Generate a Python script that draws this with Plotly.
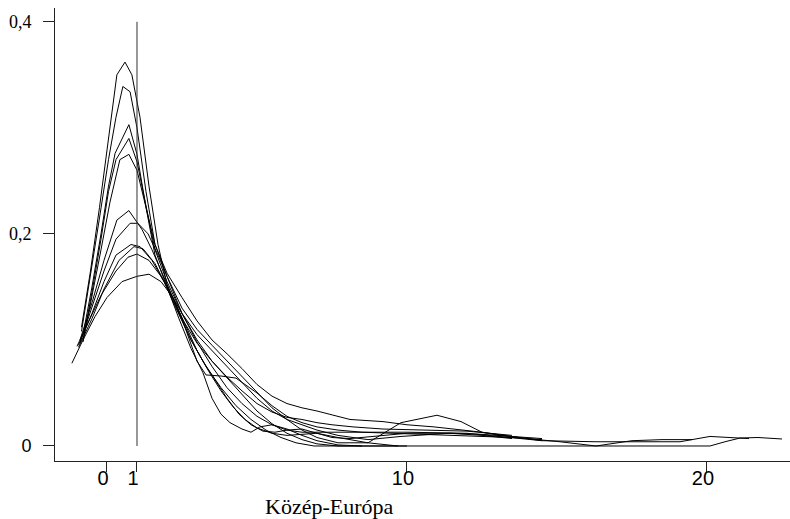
import plotly.graph_objects as go

# ---- data ----
x1 = [-0.85, -0.55, -0.25, 0.05, 0.33, 0.6, 0.83, 1.1, 1.4, 1.7, 2.0, 2.5, 3.0, 3.5, 4.0, 4.5, 5.0, 5.5, 6.0, 6.5, 7.0, 7.7, 10, 15, 20.1, 20.6, 21.1, 21.7, 22.5]
y1 = [0.112, 0.165, 0.225, 0.29, 0.35, 0.362, 0.35, 0.31, 0.245, 0.19, 0.152, 0.12, 0.097, 0.08, 0.064, 0.048, 0.033, 0.021, 0.012, 0.006, 0.002, 0.0, 0.0, 0.0, 0.0, 0.004, 0.0075, 0.008, 0.0066]

x2 = [-0.85, -0.55, -0.25, 0.05, 0.3, 0.53, 0.77, 1.0, 1.3, 1.6, 2.0, 2.5, 3.0, 3.5, 4.0, 4.5, 5.0, 5.5, 6.0, 6.5, 7.0, 8.1, 9.2, 10.0, 10.9, 12.5, 13.5, 14.5]
y2 = [0.108, 0.16, 0.215, 0.27, 0.31, 0.339, 0.334, 0.30, 0.24, 0.19, 0.163, 0.14, 0.118, 0.1, 0.087, 0.073, 0.058, 0.047, 0.04, 0.036, 0.033, 0.025, 0.023, 0.02, 0.018, 0.013, 0.009, 0.005]

x3 = [-0.8, -0.5, -0.2, 0.05, 0.27, 0.73, 1.0, 1.3, 1.6, 2.0, 2.4, 2.8, 3.2, 3.5, 3.8, 4.1, 4.5, 4.8, 5.1, 5.5, 6.0, 6.5, 7.0, 7.7, 8.5]
y3 = [0.105, 0.15, 0.2, 0.245, 0.276, 0.303, 0.275, 0.225, 0.18, 0.15, 0.12, 0.092, 0.069, 0.045, 0.03, 0.022, 0.016, 0.013, 0.018, 0.02, 0.016, 0.01, 0.005, 0.001, 0.0]

x4 = [-0.8, -0.5, -0.2, 0.05, 0.3, 0.73, 1.0, 1.3, 1.6, 2.0, 2.5, 3.0, 3.5, 4.0, 4.5, 5.0, 5.5, 6.0, 6.5, 7.0, 7.7, 8.7, 9.8, 11.4, 12.5, 13.5]
y4 = [0.1, 0.145, 0.195, 0.24, 0.27, 0.29, 0.268, 0.225, 0.185, 0.155, 0.125, 0.105, 0.09, 0.075, 0.06, 0.045, 0.033, 0.025, 0.02, 0.015, 0.01, 0.006, 0.009, 0.012, 0.01, 0.007]

x5 = [-0.8, -0.5, -0.2, 0.1, 0.43, 0.73, 1.0, 1.3, 1.6, 2.0, 2.5, 3.0, 3.5, 4.0, 4.5, 5.0, 5.5, 6.0, 6.5, 7.0, 7.7, 8.5, 10, 12, 14.5, 16.3, 19.1, 20.1, 20.9, 21.4]
y5 = [0.098, 0.14, 0.185, 0.23, 0.27, 0.275, 0.26, 0.225, 0.19, 0.16, 0.125, 0.098, 0.075, 0.055, 0.04, 0.028, 0.02, 0.015, 0.013, 0.013, 0.013, 0.013, 0.013, 0.012, 0.005, 0.004, 0.004, 0.009, 0.008, 0.007]

x6 = [-0.9, -0.5, -0.1, 0.33, 0.73, 1.17, 1.5, 1.8, 2.1, 2.5, 3.0, 3.3, 3.8, 4.3, 5.0, 5.5, 6.0, 6.5, 7.0, 7.7, 8.5, 9.5, 10.5, 12, 13.5, 14.5]
y6 = [0.1, 0.135, 0.175, 0.213, 0.222, 0.204, 0.185, 0.165, 0.145, 0.12, 0.08, 0.067, 0.066, 0.064, 0.05, 0.038, 0.028, 0.022, 0.018, 0.015, 0.013, 0.012, 0.011, 0.01, 0.008, 0.006]

x7 = [-0.9, -0.5, -0.1, 0.3, 0.77, 1.03, 1.37, 1.7, 2.0, 2.5, 3.0, 3.5, 4.0, 4.5, 5.0, 5.5, 6.0, 6.5, 7.0, 7.7, 8.7, 9.8, 11.0, 11.8, 12.5, 13.1, 14, 15.1, 16.3, 17.5, 18.5, 19.5]
y7 = [0.097, 0.13, 0.165, 0.195, 0.21, 0.21, 0.2, 0.18, 0.16, 0.13, 0.11, 0.095, 0.08, 0.066, 0.05, 0.036, 0.025, 0.015, 0.008, 0.003, 0.003, 0.022, 0.029, 0.023, 0.013, 0.01, 0.007, 0.004, 0.0, 0.005, 0.006, 0.006]

x8 = [-0.95, -0.5, -0.1, 0.3, 0.8, 1.1, 1.5, 1.9, 2.3, 2.8, 3.3, 3.8, 4.3, 4.8, 5.3, 5.8, 6.3, 6.9, 7.7, 10]
y8 = [0.095, 0.125, 0.155, 0.18, 0.19, 0.188, 0.175, 0.155, 0.13, 0.1, 0.075, 0.055, 0.038, 0.025, 0.015, 0.008, 0.003, 0.0, 0.0, 0.0]

x9 = [-0.95, -0.5, -0.1, 0.4, 0.9, 1.2, 1.6, 2.0, 2.4, 2.8, 3.2, 3.6, 4.0, 4.4, 4.8, 5.2, 5.6, 6.0, 6.5, 7.0, 7.5, 8.1, 9, 10, 11.5, 12.5, 14.5]
y9 = [0.093, 0.12, 0.148, 0.175, 0.188, 0.186, 0.172, 0.15, 0.125, 0.1, 0.08, 0.062, 0.045, 0.03, 0.02, 0.014, 0.013, 0.015, 0.016, 0.012, 0.008, 0.007, 0.0095, 0.012, 0.012, 0.011, 0.007]

x10 = [-1.0, -0.6, -0.2, 0.3, 0.7, 1.0, 1.4, 1.8, 2.2, 2.6, 3.0, 3.4, 3.8, 4.2, 4.6, 5.0, 5.5, 6.0, 6.5, 7.0, 7.7, 8.7, 9.7]
y10 = [0.094, 0.118, 0.142, 0.165, 0.178, 0.181, 0.175, 0.16, 0.14, 0.115, 0.09, 0.07, 0.052, 0.037, 0.025, 0.017, 0.012, 0.01, 0.011, 0.012, 0.008, 0.003, 0.0]

x11 = [-1.17, -0.8, -0.4, 0.0, 0.5, 1.0, 1.4, 1.8, 2.2, 2.6, 3.0, 3.5, 4.0, 4.5, 5.0, 5.5, 6.0, 6.5, 7.0, 7.5, 8.2, 9.2, 10.5, 12, 13.5]
y11 = [0.078, 0.1, 0.122, 0.14, 0.155, 0.16, 0.162, 0.155, 0.14, 0.12, 0.1, 0.08, 0.065, 0.052, 0.04, 0.032, 0.027, 0.025, 0.022, 0.02, 0.018, 0.016, 0.015, 0.014, 0.01]

curves = [(x1, y1), (x2, y2), (x3, y3), (x4, y4), (x5, y5), (x6, y6),
          (x7, y7), (x8, y8), (x9, y9), (x10, y10), (x11, y11)]

ref_x = 1
ref_y = [0, 0.4]

x_tickvals = [0, 1, 10, 20]
x_ticktext = ["0", "1", "10", "20"]
y_tickvals = [0, 0.2, 0.4]
y_ticktext = ["<span style='font-family:\"Liberation Sans\", Arial'>0</span>", "0,2", "0,4"]
x_title = "Közép-Európa"

x_range = [-1.733, 22.767]
y_range = [-0.01415, 0.413]

# ---- figure ----
fig = go.Figure()
for cx, cy in curves:
    fig.add_trace(go.Scatter(x=cx, y=cy, mode="lines",
                             line=dict(color="black", width=1),
                             showlegend=False, hoverinfo="skip"))

# reference line at x = 1 (drawn on the overlay x axis that carries the labels)
fig.add_trace(go.Scatter(x=[ref_x, ref_x], y=ref_y, mode="lines", xaxis="x2",
                         line=dict(color="#333333", width=1),
                         showlegend=False, hoverinfo="skip"))

serif = "'Liberation Serif', 'Times New Roman', serif"
sans = "'Liberation Sans', Arial, sans-serif"

fig.update_layout(
    width=790, height=519,
    margin=dict(l=55, r=0, t=8, b=58),
    paper_bgcolor="white", plot_bgcolor="white",
    xaxis=dict(range=x_range, showline=True, linecolor="#222222", linewidth=1,
               ticks="outside", ticklen=10, tickcolor="#222222", tickwidth=1,
               tickvals=x_tickvals, showticklabels=False,
               showgrid=False, zeroline=False),
    xaxis2=dict(range=x_range, overlaying="x", side="bottom", anchor="y",
                showline=False, ticks="",
                tickvals=x_tickvals, ticktext=x_ticktext,
                tickfont=dict(family=sans, size=20, color="black"),
                ticklabelshift=-4, ticklabelstandoff=3,
                showgrid=False, zeroline=False),
    yaxis=dict(range=y_range, showline=True, linecolor="#222222", linewidth=1,
               ticks="outside", ticklen=11, tickcolor="#222222", tickwidth=1,
               tickvals=y_tickvals, ticktext=y_ticktext,
               tickfont=dict(family=serif, size=18, color="black"),
               ticklabelstandoff=8,
               showgrid=False, zeroline=False),
    annotations=[dict(text=x_title, xref="paper", yref="paper", x=0.374, y=0,
                      xanchor="center", yanchor="middle", yshift=-45, showarrow=False,
                      font=dict(family=serif, size=22, color="black"))],
)

fig.write_html("out.html")
